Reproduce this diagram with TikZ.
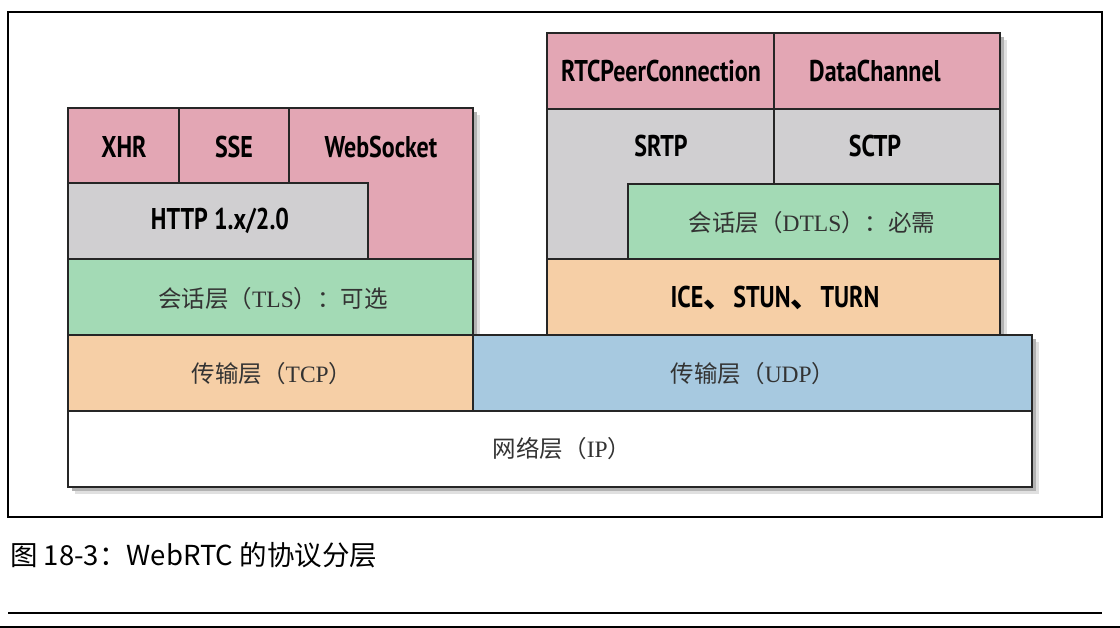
\documentclass[tikz,border=0pt]{standalone}
\usepackage{fontspec}
\setmainfont{Liberation Serif}
\newfontfamily\cjk{Noto Sans CJK SC}
\newfontfamily\protofont{PT Sans}[FakeStretch=0.8]
\usetikzlibrary{positioning}
\definecolor{appcol}{HTML}{E3A6B4}
\definecolor{protocol}{HTML}{D0CFD1}
\definecolor{sesscol}{HTML}{A3DAB5}
\definecolor{transcol}{HTML}{F6CFA6}
\definecolor{udpcol}{HTML}{A7C9E0}
\newcommand{\zh}[3]{{\cjk #1（}#2{\cjk ）#3}}% #1 layer name, #2 protocol, #3 tail
\newcommand{\stackshadow}[4]{% #1 x0, #2 y0, #3 x1, #4 y1 : soft shadow under a stack
  \fill[black!12] (#1+7,#2+7) rectangle (#3+7,#4+7);
  \fill[black!30] (#1+4,#2+4) rectangle (#3+4,#4+4);
}

\begin{document}
\begin{tikzpicture}[x=1pt,y=-1pt,
    lay/.style={draw=black!85, line width=2.6pt, line join=miter},
    proto/.style={font=\protofont\bfseries\fontsize{30}{30}\selectfont},
    zhlab/.style={font=\fontsize{23.5}{23.5}\selectfont, text=black!80}]
  \useasboundingbox (0,0) rectangle (1120,628);
  \draw[line width=1.2pt] (8,12) rectangle (1102,517);
  % shadows first
  \stackshadow{68}{108}{473}{411}
  \stackshadow{547}{33}{1000}{335}
  \stackshadow{473}{335}{1032}{411}
  \stackshadow{68}{411}{1032}{487}
  % HTTP side
  \filldraw[lay, fill=appcol] (68,108) rectangle (179,183);
  \filldraw[lay, fill=appcol] (179,108) rectangle (289,183);
  \filldraw[lay, fill=appcol] (289,108) -- (473,108) -- (473,259) -- (368,259) -- (368,183) -- (289,183) -- cycle;
  \filldraw[lay, fill=protocol] (68,183) rectangle (368,259);
  \filldraw[lay, fill=sesscol] (68,259) rectangle (473,335);
  \filldraw[lay, fill=transcol] (68,335) rectangle (473,411);
  % WebRTC side
  \filldraw[lay, fill=appcol] (547,33) rectangle (774,109);
  \filldraw[lay, fill=appcol] (774,33) rectangle (1000,109);
  \filldraw[lay, fill=protocol] (547,109) -- (774,109) -- (774,184) -- (628,184) -- (628,259) -- (547,259) -- cycle;
  \filldraw[lay, fill=protocol] (774,109) rectangle (1000,184);
  \filldraw[lay, fill=sesscol] (628,184) rectangle (1000,259);
  \filldraw[lay, fill=transcol] (547,259) rectangle (1000,335);
  \filldraw[lay, fill=udpcol] (473,335) rectangle (1032,411);
  \filldraw[lay, fill=white] (68,411) rectangle (1032,487);
  % labels
  \node[proto] (xhr) at (124,147) {XHR};
  \node[proto] (sse) at (234,147) {SSE};
  \node[proto] (ws) at (381,147) {WebSocket};
  \node[proto] (http) at (220,221) {HTTP 1.x/2.0};
  \node[zhlab] (tls) at (273,299) {\zh{会话层}{TLS}{：可选}};
  \node[zhlab] (tcp) at (272,374) {\zh{传输层}{TCP}{}};
  \node[proto] (peer) at (661,71) {RTCPeerConnection};
  \node[proto] (chan) at (875,71) {DataChannel};
  \node[proto] (srtp) at (661,146) {SRTP};
  \node[proto] (sctp) at (875,146) {SCTP};
  \node[zhlab] (dtls) at (812,223) {\zh{会话层}{DTLS}{：必需}};
  \node[proto] (ice) at (775,298) {ICE{\cjk 、}STUN{\cjk 、}TURN};
  \node[zhlab] (udp) at (753,374) {\zh{传输层}{UDP}{}};
  \node[zhlab] (ip) at (562,449) {\zh{网络层}{IP}{}};
  % caption
  \node[anchor=west, font=\cjk\fontsize{27.5}{27.5}\selectfont, inner sep=0pt] (cap) at (10,555) {图 18-3：WebRTC 的协议分层};
  \draw[line width=1.2pt] (8,613) -- (1102,613);
  \draw[line width=1.4pt] (0,627) -- (1120,627);
\end{tikzpicture}
\end{document}
